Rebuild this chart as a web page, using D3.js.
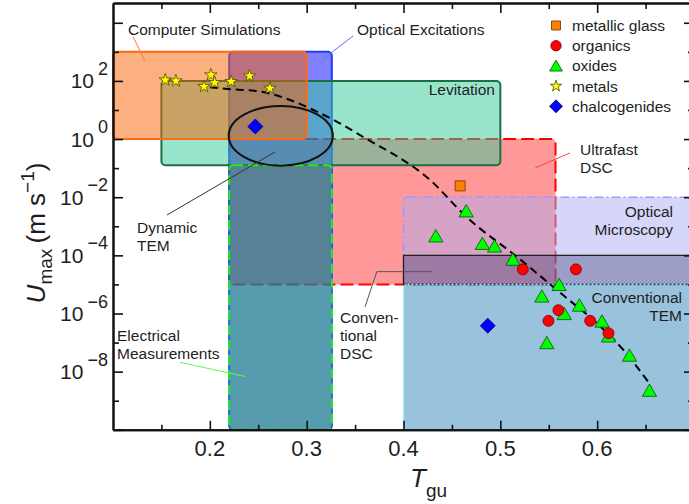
<!DOCTYPE html>
<html>
<head>
<meta charset="utf-8">
<script src="https://cdn.jsdelivr.net/npm/d3@7"></script>
<style>
body { margin: 0; background: #fff; }
svg { display: block; font-family: "Liberation Sans", Arial, sans-serif; }
</style>
</head>
<body>
<div id="chart-area"></div>
<script>
// technique windows : T_gu range and U range (m/s)
var techNames = ["Ultrafast DSC", "Optical Excitations", "Levitation", "Computer Simulations",
                 "Electrical Measurements", "Optical Microscopy", "Conventional DSC", "Conventional TEM"];
var techTmin = [0.22, 0.22, 0.15, 0.10, 0.22, 0.40, 0.40, 0.40];
var techTmax = [0.557, 0.326, 0.50, 0.30, 0.326, 0.72, 0.72, 0.72];
var techUmin = [1e-5, 1e-10, 0.125, 1, 1e-10, 1e-5, 1e-5, 1e-10];
var techUmax = [1, 1e3, 1e2, 1e3, 0.125, 1e-2, 1e-4, 1e-5];

// dynamic TEM ellipse extent
var dynTEMt = [0.2195, 0.327];
var dynTEMu = [13.8, 0.122];

// measured glasses
var glassT = [0.4585];
var glassU = [0.0245];
var organicsT = [0.5232, 0.578, 0.56, 0.5497, 0.5928, 0.6117];
var organicsU = [3.3e-5, 3.3e-5, 1.3e-6, 5.6e-7, 5.6e-7, 2.1e-7];
var oxidesT = [0.4647, 0.4334, 0.4815, 0.494, 0.513, 0.5607, 0.5429, 0.5817, 0.566, 0.605, 0.6117, 0.548, 0.6334, 0.654];
var oxidesU = [3.4e-3, 4.7e-4, 2.6e-4, 2.1e-4, 7.4e-5, 1.0e-5, 4.0e-6, 1.95e-6, 1.0e-6, 5.5e-7, 1.7e-7, 1.0e-7, 3.7e-8, 2.3e-9];
var metalsT = [0.154, 0.165, 0.201, 0.194, 0.205, 0.222, 0.241, 0.262];
var metalsU = [108, 100, 161, 64, 87, 95, 149, 56];
var chalcT = [0.247, 0.487];
var chalcU = [2.7, 3.8e-7];

// fitted U_max curve
var curveT = [0.200, 0.224, 0.252, 0.283, 0.307, 0.331, 0.358, 0.4275, 0.465, 0.517, 0.569, 0.596, 0.627, 0.655];
var curveU = [60, 51, 43, 22, 10, 4.0, 1.2, 0.039, 2.1e-3, 9e-5, 3.3e-6, 6e-7, 5.6e-8, 3.5e-9];

// axis ticks
var xMajor = [0.2, 0.3, 0.4, 0.5, 0.6];
var xMinor = [0.15, 0.25, 0.35, 0.45, 0.55, 0.65];
var yEven = [-10, -8, -6, -4, -2, 0, 2, 4];
var yOdd = [-9, -7, -5, -3, -1, 1, 3];
var yLabelExp = [2, 0, -2, -4, -6, -8];

var legendNames = ["metallic glass", "organics", "oxides", "metals", "chalcogenides"];

var width = 689, height = 504;

var svg = d3.select("#chart-area").append("svg")
    .attr("width", width)
    .attr("height", height);

var x = d3.scaleLinear().domain([0.1, 0.7]).range([113, 694]);
var y = d3.scaleLog().domain([1e-10, Math.pow(10, 4.68)]).range([429.8, 3]);

var techStyle = {
    "Ultrafast DSC":          { fill: "#ff3333", op: 0.5,  stroke: "#ff0000", dash: "13,5", sw: 2 },
    "Optical Excitations":    { fill: "#0000ff", op: 0.5,  stroke: "#1f3fff", dash: null, sw: 2 },
    "Levitation":             { fill: "#33cc99", op: 0.5,  stroke: "#1f6f45", dash: null, sw: 2 },
    "Computer Simulations":   { fill: "#fa6000", op: 0.5,  stroke: "#ff6a10", dash: null, sw: 2 },
    "Electrical Measurements":{ fill: "#30b860", op: 0.5,  stroke: "#22ee22", dash: "10,5", sw: 2 },
    "Optical Microscopy":     { fill: "#adadf5", op: 0.5,  stroke: "#9a9aff", dash: "9,3,2,3", sw: 1.6 },
    "Conventional DSC":       { fill: "#1b1e53", op: 0.3,  stroke: "#222", dash: null, sw: 1.3 },
    "Conventional TEM":       { fill: "#3385bb", op: 0.5,  stroke: "#90f0ff", dash: "2,2", sw: 1.6 }
};

var g = svg.append("g");

// technique rectangles
techNames.forEach(function(name, i){
    var s = techStyle[name];
    var x0 = x(techTmin[i]), x1 = x(techTmax[i]);
    var y0 = y(techUmax[i]), y1 = y(techUmin[i]);
    g.append("rect")
        .attr("x", x0).attr("y", y0)
        .attr("width", x1 - x0).attr("height", y1 - y0)
        .attr("rx", name == "Conventional DSC" ? 0 : 4)
        .attr("fill", s.fill).attr("fill-opacity", s.op);
    g.append("rect")
        .attr("x", x0).attr("y", y0)
        .attr("width", x1 - x0).attr("height", y1 - y0)
        .attr("rx", name == "Conventional DSC" ? 0 : 4)
        .attr("fill", "none")
        .attr("stroke", s.stroke)
        .attr("stroke-width", s.sw)
        .attr("stroke-dasharray", s.dash);
});

// dynamic TEM ellipse
g.append("ellipse")
    .attr("cx", (x(dynTEMt[0]) + x(dynTEMt[1])) / 2)
    .attr("cy", (y(dynTEMu[0]) + y(dynTEMu[1])) / 2)
    .attr("rx", (x(dynTEMt[1]) - x(dynTEMt[0])) / 2)
    .attr("ry", (y(dynTEMu[1]) - y(dynTEMu[0])) / 2)
    .attr("fill", "none")
    .attr("stroke", "#111")
    .attr("stroke-width", 2);

// dashed curve
var line = d3.line()
    .x(function(d){ return x(d[0]); })
    .y(function(d){ return y(d[1]); })
    .curve(d3.curveMonotoneX);
g.append("path")
    .datum(curveT.map(function(t, i){ return [t, curveU[i]]; }))
    .attr("d", line)
    .attr("fill", "none")
    .attr("stroke", "#000")
    .attr("stroke-width", 2)
    .attr("stroke-dasharray", "8,5");

// leader lines (data coordinates)
var leaders = [
    { pts: [[0.1207, 3342], [0.1331, 461]], color: "#ff7a30" },
    { pts: [[0.317, 571], [0.348, 3532]], color: "#6a6aff" },
    { pts: [[0.536, 0.1016], [0.572, 0.333]], color: "#ff4040" },
    { pts: [[0.1558, 2.45e-3], [0.2674, 0.361]], color: "#333" },
    { pts: [[0.3603, 1.7e-6], [0.3724, 2.75e-5], [0.4295, 2.75e-5]], color: "#555" },
    { pts: [[0.1692, 2.1e-8], [0.2364, 6.8e-9]], color: "#55ff55" }
];
var leaderLine = d3.line()
    .x(function(d){ return x(d[0]); })
    .y(function(d){ return y(d[1]); });
leaders.forEach(function(l){
    g.append("path")
        .attr("d", leaderLine(l.pts))
        .attr("fill", "none")
        .attr("stroke", l.color)
        .attr("stroke-width", 1);
});

// markers
function diamondPath(h){
    return "M0," + (-h) + "L" + h + ",0L0," + h + "L" + (-h) + ",0Z";
}
var markerStyle = {
    "metallic glass": { path: d3.symbol().type(d3.symbolSquare).size(100)(), fill: "#ff8000", stroke: "#6b3300", off: 0 },
    "organics":       { path: d3.symbol().type(d3.symbolCircle).size(95)(),  fill: "#ff0000", stroke: "#7a0000", off: 0 },
    "oxides":         { path: d3.symbol().type(d3.symbolTriangle).size(88)(), fill: "#00ff00", stroke: "#0b4d0b", off: 2 },
    "metals":         { path: d3.symbol().type(d3.symbolStar).size(48)(),    fill: "#ffff00", stroke: "#4d4d00", off: 0 },
    "chalcogenides":  { path: diamondPath(7.5), fill: "#0000ff", stroke: "#00006b", off: 0 }
};
var legendStyle = {
    "metallic glass": d3.symbol().type(d3.symbolSquare).size(81)(),
    "organics":       d3.symbol().type(d3.symbolCircle).size(85)(),
    "oxides":         d3.symbol().type(d3.symbolTriangle).size(70)(),
    "metals":         d3.symbol().type(d3.symbolStar).size(40)(),
    "chalcogenides":  diamondPath(6.5)
};

function drawSeries(name, ts, us){
    var s = markerStyle[name];
    g.selectAll(null)
        .data(ts)
        .enter().append("path")
            .attr("d", s.path)
            .attr("transform", function(d, i){
                return "translate(" + x(d) + "," + (y(us[i]) + s.off) + ")";
            })
            .attr("fill", s.fill)
            .attr("stroke", s.stroke)
            .attr("stroke-width", 0.8);
}
drawSeries("oxides", oxidesT, oxidesU);
drawSeries("organics", organicsT, organicsU);
drawSeries("metals", metalsT, metalsU);
drawSeries("chalcogenides", chalcT, chalcU);
drawSeries("metallic glass", glassT, glassU);

// annotation texts
var labels = [
    { lines: ["Computer Simulations"], x: 128, y: 35, anchor: "start" },
    { lines: ["Optical Excitations"], x: 357, y: 35, anchor: "start" },
    { lines: ["Levitation"], x: 495, y: 95, anchor: "end" },
    { lines: ["Ultrafast", "DSC"], x: 580, y: 155, anchor: "start" },
    { lines: ["Optical", "Microscopy"], x: 673, y: 217, anchor: "end" },
    { lines: ["Conventional", "TEM"], x: 682, y: 303, anchor: "end" },
    { lines: ["Dynamic", "TEM"], x: 137, y: 233, anchor: "start" },
    { lines: ["Conven-", "tional", "DSC"], x: 340, y: 322.5, anchor: "start" },
    { lines: ["Electrical", "Measurements"], x: 117, y: 340.5, anchor: "start" }
];
labels.forEach(function(l){
    var t = g.append("text")
        .attr("x", l.x).attr("y", l.y)
        .attr("text-anchor", l.anchor)
        .attr("font-size", "15.5px")
        .attr("fill", "#1e1e1e");
    l.lines.forEach(function(s, i){
        t.append("tspan").attr("x", l.x).attr("dy", i == 0 ? 0 : 18.4).text(s);
    });
});

// legend
legendNames.forEach(function(name, i){
    var cy = 25.5 + i * 20.2;
    var s = markerStyle[name];
    g.append("path")
        .attr("d", legendStyle[name])
        .attr("transform", "translate(556," + (cy + (name == "oxides" ? 1.5 : 0)) + ")")
        .attr("fill", s.fill)
        .attr("stroke", s.stroke)
        .attr("stroke-width", 0.8);
    g.append("text")
        .attr("x", 572).attr("y", cy + 5.5)
        .attr("font-size", "15.5px")
        .attr("fill", "#1e1e1e")
        .text(name);
});

// axes
var axisG = svg.append("g");

function styleAxis(sel){
    sel.select(".domain").attr("stroke", "#111").attr("stroke-width", 2);
    sel.selectAll(".tick line").attr("stroke", "#111").attr("stroke-width", 1.6);
    sel.selectAll(".tick text").remove();
}

var xBottomMajor = axisG.append("g")
    .attr("transform", "translate(0," + 429.8 + ")")
    .call(d3.axisBottom(x).tickValues(xMajor).tickSize(-9).tickSizeOuter(0));
styleAxis(xBottomMajor);
var xBottomMinor = axisG.append("g")
    .attr("transform", "translate(0," + 429.8 + ")")
    .call(d3.axisBottom(x).tickValues(xMinor).tickSize(-5).tickSizeOuter(0));
styleAxis(xBottomMinor);

var xTopMajor = axisG.append("g")
    .attr("transform", "translate(0,3)")
    .call(d3.axisTop(x).tickValues(xMajor).tickSize(-10).tickSizeOuter(0));
styleAxis(xTopMajor);
var xTopMinor = axisG.append("g")
    .attr("transform", "translate(0,3)")
    .call(d3.axisTop(x).tickValues(xMinor).tickSize(-6).tickSizeOuter(0));
styleAxis(xTopMinor);

var yLeftEven = axisG.append("g")
    .attr("transform", "translate(113,0)")
    .call(d3.axisLeft(y).tickValues(yEven.map(function(e){ return Math.pow(10, e); })).tickSize(-10).tickSizeOuter(0));
styleAxis(yLeftEven);
var yLeftOdd = axisG.append("g")
    .attr("transform", "translate(113,0)")
    .call(d3.axisLeft(y).tickValues(yOdd.map(function(e){ return Math.pow(10, e); })).tickSize(-6).tickSizeOuter(0));
styleAxis(yLeftOdd);

var yRightEven = axisG.append("g")
    .attr("transform", "translate(694,0)")
    .call(d3.axisRight(y).tickValues(yEven.map(function(e){ return Math.pow(10, e); })).tickSize(-10).tickSizeOuter(0));
styleAxis(yRightEven);
var yRightOdd = axisG.append("g")
    .attr("transform", "translate(694,0)")
    .call(d3.axisRight(y).tickValues(yOdd.map(function(e){ return Math.pow(10, e); })).tickSize(-6).tickSizeOuter(0));
styleAxis(yRightOdd);

// tick labels
xMajor.forEach(function(v){
    axisG.append("text")
        .attr("x", x(v)).attr("y", 456)
        .attr("text-anchor", "middle")
        .attr("font-size", "22px")
        .attr("fill", "#1e1e1e")
        .text(d3.format(".1f")(v));
});
yLabelExp.forEach(function(e){
    var t = axisG.append("text")
        .attr("x", 108).attr("y", y(Math.pow(10, e)) + 7.5)
        .attr("text-anchor", "end")
        .attr("font-size", "21px")
        .attr("fill", "#1e1e1e");
    t.append("tspan").text("10");
    t.append("tspan")
        .attr("dx", 4).attr("dy", -13.5)
        .attr("font-size", "18px")
        .text(e < 0 ? "\u2212" + (-e) : e);
});

// axis titles
var xTitle = axisG.append("text")
    .attr("x", 410).attr("y", 486.5)
    .attr("font-size", "26px")
    .attr("fill", "#1e1e1e");
xTitle.append("tspan").attr("font-style", "italic").text("T");
xTitle.append("tspan").attr("dy", 10).attr("font-size", "19px").text("gu");

var yTitle = axisG.append("text")
    .attr("transform", "translate(45,233) rotate(-90)")
    .attr("text-anchor", "middle")
    .attr("font-size", "26px")
    .attr("fill", "#1e1e1e");
yTitle.append("tspan").attr("font-style", "italic").text("U");
yTitle.append("tspan").attr("dy", 7).attr("font-size", "19px").text("max");
yTitle.append("tspan").attr("dy", -7).text("\u2009(m s");
yTitle.append("tspan").attr("dy", -11).attr("font-size", "19px").text("\u22121");
yTitle.append("tspan").attr("dy", 11).text(")");
</script>
</body>
</html>
